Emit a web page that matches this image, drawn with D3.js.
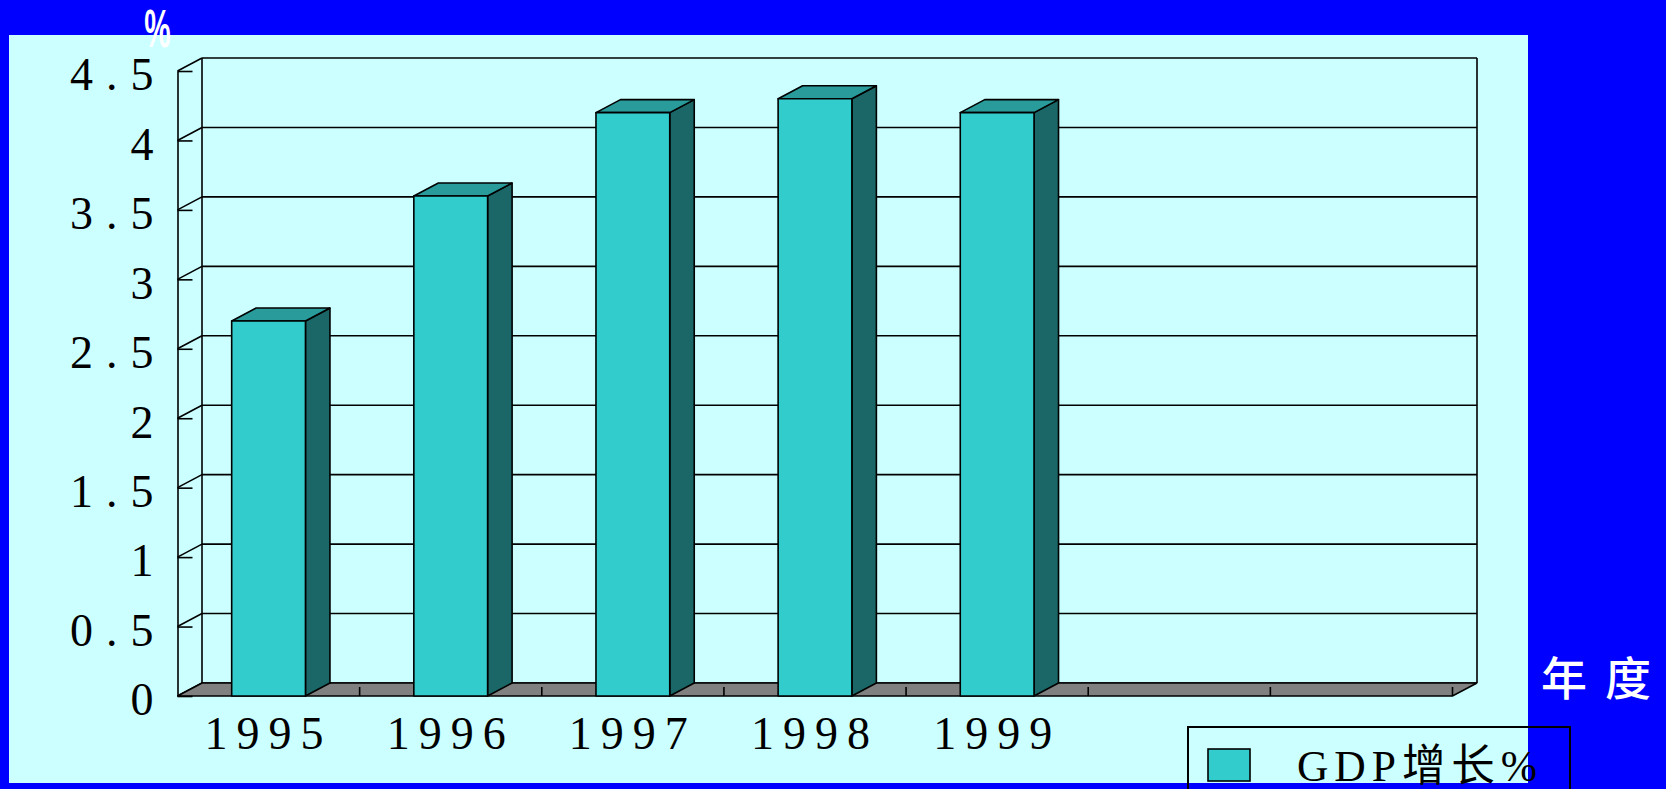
<!DOCTYPE html>
<html>
  <head>
    <meta charset="utf-8">
    <script src="https://d3js.org/d3.v7.min.js"></script>
    <title>GDP增长%</title>
    <style>
      body { margin: 0px; background: #0000ff; overflow: hidden; }
      .tick text { font-family: 'Liberation Serif', serif; font-size: 46px; fill: #000; }
      .domain { stroke: #000; stroke-width: 1.6; }
      .tick line { stroke: #000; stroke-width: 1.6; }
    </style>
  </head>
  <body>
    <svg width="1666" height="789"></svg>
    <script>
      // data
      const years = ['1995', '1996', '1997', '1998', '1999'];
      const gdpGrowth = [2.7, 3.6, 4.2, 4.3, 4.2];
      const slotCount = 7;          // the category axis has two empty slots at the end
      const yTicks = [0, 0.5, 1, 1.5, 2, 2.5, 3, 3.5, 4, 4.5];
      const yUnit = '%';
      const xUnit = '年度';
      const seriesName = 'GDP增长%';

      const frontColor = '#33cccc', topColor = '#299b9b', sideColor = '#1b6666';
      const depth = { dx: 24.5, dy: -13 };

      const svg = d3.select('svg');
      svg.append('rect').attr('width', 1666).attr('height', 789).attr('fill', '#0000ff');
      svg.append('rect')
          .attr('x', 9).attr('y', 35).attr('width', 1519).attr('height', 748)
          .attr('fill', '#ccffff');

      const x0 = 177.5, x1 = 1452.5;
      const xScale = d3.scaleBand()
          .domain(d3.range(slotCount))
          .range([x0, x1])
          .paddingInner(0.595)
          .paddingOuter(0.2975);
      const step = xScale.step();

      const yScale = d3.scaleLinear()
          .domain([0, 4.5])
          .range([696, 71]);

      const g = svg.append('g');
      const back = g.append('g').attr('fill', 'none').attr('stroke', '#000').attr('stroke-width', 1.6);

      // back wall grid lines
      back.selectAll('line.grid').data(yTicks)
        .enter().append('line')
          .attr('class', 'grid')
          .attr('x1', x0 + depth.dx).attr('x2', x1 + depth.dx)
          .attr('y1', d => yScale(d) + depth.dy).attr('y2', d => yScale(d) + depth.dy);
      // left wall lines
      back.selectAll('line.side').data(yTicks)
        .enter().append('line')
          .attr('class', 'side')
          .attr('x1', x0).attr('x2', x0 + depth.dx)
          .attr('y1', d => yScale(d)).attr('y2', d => yScale(d) + depth.dy);
      back.append('line')
          .attr('x1', x0 + depth.dx).attr('x2', x0 + depth.dx)
          .attr('y1', yScale(0) + depth.dy).attr('y2', yScale(4.5) + depth.dy);
      back.append('line')
          .attr('x1', x1 + depth.dx).attr('x2', x1 + depth.dx)
          .attr('y1', yScale(0) + depth.dy).attr('y2', yScale(4.5) + depth.dy);

      // floor
      const y0 = yScale(0);
      g.append('path')
          .attr('d', `M${x0},${y0}L${x1},${y0}L${x1 + depth.dx},${y0 + depth.dy}L${x0 + depth.dx},${y0 + depth.dy}Z`)
          .attr('fill', '#808080').attr('stroke', '#000').attr('stroke-width', 1.6);
      g.selectAll('line.ctick').data(d3.range(1, slotCount + 1))
        .enter().append('line')
          .attr('class', 'ctick')
          .attr('x1', i => x0 + i * step).attr('x2', i => x0 + i * step)
          .attr('y1', y0).attr('y2', y0 - 9)
          .attr('stroke', '#000').attr('stroke-width', 1.6);

      // bars
      const bars = g.selectAll('g.bar').data(years.map((y, i) => ({ year: y, value: gdpGrowth[i], i })))
        .enter().append('g')
          .attr('class', 'bar')
          .attr('stroke', '#000').attr('stroke-width', 1.6).attr('stroke-linejoin', 'round');
      const bw = xScale.bandwidth();
      bars.append('path')
          .attr('fill', sideColor)
          .attr('d', d => {
            const xr = xScale(d.i) + bw, yt = yScale(d.value);
            return `M${xr},${y0}L${xr},${yt}L${xr + depth.dx},${yt + depth.dy}L${xr + depth.dx},${y0 + depth.dy}Z`;
          });
      bars.append('path')
          .attr('fill', topColor)
          .attr('d', d => {
            const xl = xScale(d.i), yt = yScale(d.value);
            return `M${xl},${yt}L${xl + bw},${yt}L${xl + bw + depth.dx},${yt + depth.dy}L${xl + depth.dx},${yt + depth.dy}Z`;
          });
      bars.append('rect')
          .attr('fill', frontColor)
          .attr('x', d => xScale(d.i))
          .attr('y', d => yScale(d.value))
          .attr('width', bw)
          .attr('height', d => y0 - yScale(d.value));

      // value axis
      const yAxisG = g.append('g').attr('transform', `translate(${x0},0)`)
          .call(d3.axisLeft(yScale).tickValues(yTicks).tickSize(-15).tickSizeOuter(0).tickPadding(11)
            .tickFormat(d => String(d)));
      yAxisG.selectAll('.tick text').attr('dy', '0.41em').style('letter-spacing', '13px');

      // category axis labels
      const xAxisG = g.append('g').attr('transform', `translate(0,${y0})`)
          .call(d3.axisBottom(xScale).tickSize(0).tickPadding(20).tickFormat(i => years[i] || ''));
      xAxisG.select('.domain').remove();
      xAxisG.selectAll('.tick text').style('letter-spacing', '9px');

      // unit labels
      svg.append('text')
          .attr('transform', 'translate(157.5,47) scale(0.55,1)')
          .attr('text-anchor', 'middle')
          .style('font', 'bold 54px "Liberation Sans", sans-serif')
          .attr('fill', '#fff')
          .text(yUnit);
      svg.append('text')
          .attr('x', 1541).attr('y', 695)
          .style('font', '500 46px "Noto Sans CJK SC", sans-serif')
          .style('letter-spacing', '18px')
          .attr('fill', '#fff')
          .text(xUnit);

      // legend
      const legend = svg.append('g');
      legend.append('rect')
          .attr('x', 1188).attr('y', 727).attr('width', 382).attr('height', 90)
          .attr('fill', 'none').attr('stroke', '#000').attr('stroke-width', 2);
      legend.append('rect')
          .attr('x', 1208).attr('y', 749).attr('width', 42).attr('height', 32)
          .attr('fill', frontColor).attr('stroke', '#000').attr('stroke-width', 1.6);
      legend.append('text')
          .attr('x', 1297).attr('y', 781)
          .attr('textLength', 246).attr('lengthAdjust', 'spacingAndGlyphs')
          .style('font', '44px "Liberation Serif", "Noto Sans CJK SC", serif')
          .style('letter-spacing', '6px')
          .attr('fill', '#000')
          .text(seriesName);
    </script>
  </body>
</html>
